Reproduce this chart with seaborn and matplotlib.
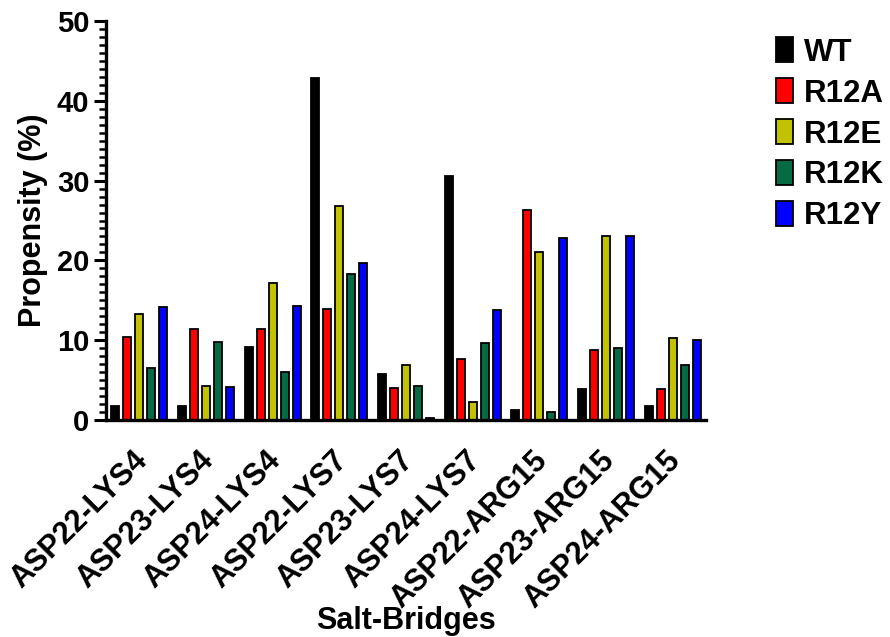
import matplotlib
matplotlib.use("Agg")
import matplotlib.pyplot as plt
import matplotlib.transforms as mtransforms
from matplotlib.ticker import MultipleLocator
import seaborn as sns
import pandas as pd

categories = ["ASP22-LYS4", "ASP23-LYS4", "ASP24-LYS4", "ASP22-LYS7", "ASP23-LYS7",
              "ASP24-LYS7", "ASP22-ARG15", "ASP23-ARG15", "ASP24-ARG15"]
series_names = ["WT", "R12A", "R12E", "R12K", "R12Y"]
wt   = [1.8, 1.8, 9.1, 42.9, 5.8, 30.6, 1.3, 3.9, 1.8]
r12a = [10.4, 11.4, 11.4, 13.9, 4.05, 7.7, 26.3, 8.8, 3.85]
r12e = [13.3, 4.2, 17.2, 26.8, 6.85, 2.2, 21.1, 23.0, 10.3]
r12k = [6.5, 9.8, 6.05, 18.3, 4.3, 9.7, 0.96, 9.05, 6.9]
r12y = [14.2, 4.1, 14.3, 19.7, 0.3, 13.8, 22.8, 23.1, 10.05]
colors = ["#000000", "#FF0000", "#C2C200", "#066B42", "#0000FF"]

rows = []
for name, vals in zip(series_names, [wt, r12a, r12e, r12k, r12y]):
    for cat, v in zip(categories, vals):
        rows.append({"Salt-Bridges": cat, "Propensity": v, "Variant": name})
df = pd.DataFrame(rows)

sns.set_style("white")
plt.rcParams["font.family"] = ["Liberation Sans", "DejaVu Sans"]
plt.rcParams["font.weight"] = "bold"
plt.rcParams["text.color"] = "black"
plt.rcParams["axes.labelcolor"] = "black"
plt.rcParams["xtick.color"] = "black"
plt.rcParams["ytick.color"] = "black"

fig = plt.figure(figsize=(8.9, 6.37), dpi=100)
ax = fig.add_axes([106/890, 1 - 420/637, 600/890, 399/637])

sns.barplot(data=df, x="Salt-Bridges", y="Propensity", hue="Variant",
            order=categories, hue_order=series_names, palette=colors,
            saturation=1, width=0.9, gap=0.33, edgecolor="black", linewidth=1.3,
            errorbar=None, ax=ax)

ax.set_xlim(-0.5, len(categories) - 0.5)
ax.set_ylim(0, 50)
ax.yaxis.set_major_locator(MultipleLocator(10))
ax.yaxis.set_minor_locator(MultipleLocator(1))
for s in ["top", "right"]:
    ax.spines[s].set_visible(False)
for s in ["left", "bottom"]:
    ax.spines[s].set_linewidth(2.4)
    ax.spines[s].set_color("black")
ax.tick_params(axis="y", which="major", length=9, width=2.2, direction="out",
               left=True, labelsize=21, pad=3, colors="black")
ax.tick_params(axis="y", which="minor", length=5, width=1.8, direction="out", left=True,
               colors="black")
ax.tick_params(axis="x", which="both", length=0, bottom=False, labelsize=22, pad=18,
               colors="black")
for lbl in ax.get_yticklabels():
    lbl.set_fontweight("bold")
ax.set_xticks(range(len(categories)))
ax.set_xticklabels(categories, rotation=45, ha="right", rotation_mode="anchor",
                   fontweight="bold", fontsize=22)
shift = mtransforms.ScaledTranslation(-7/100, 0, fig.dpi_scale_trans)
for lbl in ax.get_xticklabels():
    lbl.set_transform(lbl.get_transform() + shift)

ax.set_ylabel("Propensity (%)", fontsize=22, fontweight="bold", labelpad=6, color="black")
ax.set_xlabel("Salt-Bridges", fontsize=22, fontweight="bold", color="black")
ax.xaxis.set_label_coords(0.5, -0.466)

leg = ax.legend(loc="upper left", bbox_to_anchor=(1.095, 0.99), frameon=False,
                fontsize=22.5, handlelength=0.55, handleheight=0.85,
                handletextpad=0.35, labelspacing=0.34, borderaxespad=0)
for t in leg.get_texts():
    t.set_fontweight("bold")
    t.set_color("black")

fig.savefig("out.png", dpi=100, facecolor="white")
